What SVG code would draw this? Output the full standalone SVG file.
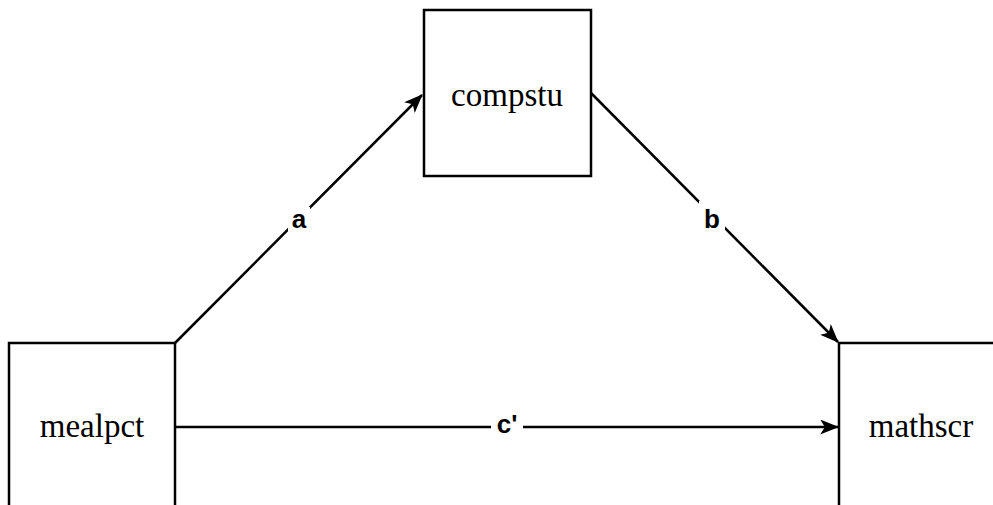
<svg xmlns="http://www.w3.org/2000/svg" width="993" height="505" viewBox="0 0 993 505">
  <style>
    .box { fill: #ffffff; stroke: #000000; stroke-width: 2.5; }
    .node-text { font-family: "Liberation Serif", "Times New Roman", serif; font-size: 33px; fill: #000000; text-anchor: middle; }
    .edge { fill: none; stroke: #000000; stroke-width: 2.5; marker-end: url(#arrow); }
    .edge-label { font-family: "Liberation Sans", Arial, sans-serif; font-size: 26px; font-weight: bold; fill: #000000; text-anchor: middle; }
    .label-bg { fill: #ffffff; }
  </style>
  <defs>
    <!-- classic arrowhead with a notched back -->
    <marker id="arrow" viewBox="0 0 20 16" refX="19" refY="8" markerWidth="19" markerHeight="15" markerUnits="userSpaceOnUse" orient="auto">
      <path d="M0,0 L20,8 L0,16 L5,8 Z" fill="#000000"/>
    </marker>
  </defs>

  <rect x="0" y="0" width="993" height="505" fill="#ffffff"/>

  <g id="mealpct">
    <rect class="box" x="9" y="343" width="166" height="170"/>
    <text class="node-text" x="92" y="437">mealpct</text>
  </g>

  <g id="compstu">
    <rect class="box" x="424" y="10" width="167" height="166"/>
    <text class="node-text" x="507" y="106">compstu</text>
  </g>

  <g id="mathscr">
    <rect class="box" x="839" y="343" width="166" height="170"/>
    <text class="node-text" x="921" y="437">mathscr</text>
  </g>

  <g id="connectors">
    <g id="edge-a">
      <line class="edge" x1="175" y1="343" x2="422" y2="95"/>
      <rect class="label-bg" x="288" y="207" width="22" height="26"/>
      <text class="edge-label" x="299" y="228">a</text>
    </g>
    <g id="edge-b">
      <line class="edge" x1="591" y1="93" x2="838" y2="342"/>
      <rect class="label-bg" x="699" y="201" width="26" height="30"/>
      <text class="edge-label" x="712" y="228">b</text>
    </g>
    <g id="edge-c">
      <line class="edge" x1="175" y1="427" x2="838" y2="427"/>
      <rect class="label-bg" x="491" y="409" width="32" height="28"/>
      <text class="edge-label" x="507" y="433">c'</text>
    </g>
  </g>
</svg>
